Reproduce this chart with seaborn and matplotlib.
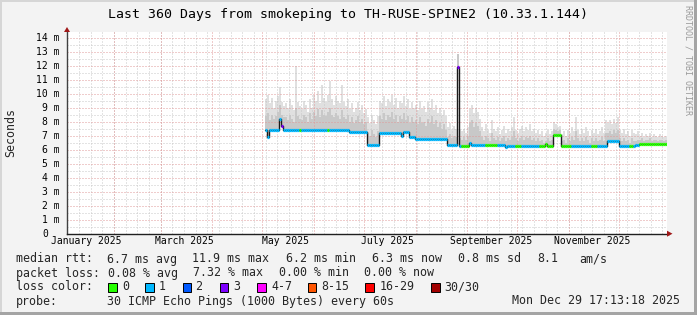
import numpy as np
import pandas as pd
import matplotlib
matplotlib.use("Agg")
import matplotlib.pyplot as plt
import matplotlib.dates as mdates
import matplotlib.transforms as mtransforms
from matplotlib.patches import Polygon, Rectangle
import seaborn as sns

# ---------------- data ----------------
title = "Last 360 Days from smokeping to TH-RUSE-SPINE2 (10.33.1.144)"
graph_start = "2025-01-03 17:13:18"
graph_end = "2025-12-29 17:13:18"
first_sample = "2025-05-02 17:00"
sample_step = "28h48min"          # consolidation step of the 360-day graph (1.2 days)

# median RTT (ms) as run-lengths of consolidated samples
median_run_len = [1, 1, 5, 1, 1, 33, 9, 6, 11, 1, 3, 3, 16, 5, 1, 5, 1, 17, 1, 19, 1, 3, 4, 23, 6, 8, 2, 14]
median_run_val = [7.38, 6.9, 7.38, 8.2, 7.7, 7.38, 7.26, 6.33, 7.17, 6.95, 7.24, 6.88, 6.8, 6.33, 11.9,
                  6.3, 6.45, 6.32, 6.2, 6.3, 6.38, 6.3, 7.05, 6.27, 6.65, 6.28, 6.35, 6.38]

# packet loss (pings lost of 30) as run-lengths
loss_run_len = [8, 1, 8, 1, 13, 1, 64, 1, 1, 4, 8, 6, 9, 3, 9, 16, 10, 3, 16, 2, 3, 14]
loss_run_lvl = [1, 3, 1, 0, 1, 0, 1, 3, 1, 0, 1, 0, 1, 0, 1, 0, 1, 0, 1, 0, 1, 0]

# smoke: highest ping (ms) per sample
smoke_hi = [9.6, 9.9, 9.3, 9.7, 9.0, 9.5, 9.8, 10.5, 9.4, 9.1,
            9.3, 9.0, 9.6, 9.2, 8.8, 12.0, 9.4, 9.1, 8.9, 9.5,
            9.2, 8.7, 9.6, 9.0, 9.9, 9.5, 10.2, 9.3, 10.6, 9.7,
            9.4, 9.9, 10.9, 9.6, 9.2, 9.8, 9.5, 9.3, 10.6, 9.4,
            9.1, 9.6, 8.9, 9.3, 8.7, 9.0, 9.4, 8.8, 9.2, 8.6, 8.9,
            8.3, 7.9, 8.5, 8.1, 7.8, 8.4,
            9.5, 9.3, 9.8, 9.1, 9.6, 9.4, 9.9, 9.2, 9.7, 9.0, 9.5,
            9.3, 9.8, 9.1, 9.6, 8.9, 9.4, 9.0,
            9.2, 8.8, 9.5, 8.9, 9.1, 8.7, 9.4, 9.0, 9.6, 8.8, 9.2, 8.6, 9.0, 8.5, 8.8, 8.4,
            7.6, 7.9, 7.4, 7.7, 7.5,
            12.85,
            7.4, 7.3, 7.5, 7.2, 7.6,
            8.9, 9.2, 8.6, 9.0, 8.7, 8.2,
            7.6, 7.3, 7.8, 7.4, 7.2, 8.1, 7.5, 7.3, 7.6, 7.1, 7.4, 7.7, 7.2, 7.5, 7.3, 7.6, 8.3, 7.4,
            7.2, 7.5, 7.7, 7.3, 7.6, 7.4, 7.8, 7.3, 7.5, 7.2, 7.4, 7.1, 7.3, 7.0, 7.2, 7.4, 7.1, 7.3,
            8.0, 7.8, 7.6, 7.7,
            7.1, 7.3, 7.0, 7.4, 7.2, 7.6, 7.3, 8.3, 7.4, 7.1, 7.5, 7.2, 7.6, 7.3, 7.0, 7.4, 7.2, 7.5,
            7.1, 7.3, 7.6, 7.2, 8.1,
            7.9, 8.1, 7.8, 8.2, 7.9, 8.3,
            7.4, 7.2, 7.5, 7.1, 7.3, 7.0, 7.4, 7.2, 7.1, 7.3,
            7.0, 7.2, 6.9, 7.1, 7.0, 7.2, 6.9, 7.1, 7.0, 6.9, 7.1, 7.0, 6.9, 7.0]

# smoke: upper edge of the denser inner band per sample
smoke_mid = [8.4, 8.6, 8.1, 8.5, 8.2, 8.4, 8.7, 9.2, 8.5, 8.3,
             8.3, 8.1, 8.5, 8.2, 8.0, 9.0, 8.4, 8.2, 8.1, 8.5,
             8.3, 8.0, 8.6, 8.2, 8.7, 8.4, 8.9, 8.3, 8.8, 8.5,
             8.4, 8.7, 9.0, 8.5, 8.3, 8.6, 8.4, 8.2, 8.8, 8.3,
             8.2, 8.5, 8.0, 8.3, 7.9, 8.1, 8.4, 8.0, 8.2, 7.8, 8.0,
             7.2, 7.0, 7.4, 7.1, 6.9, 7.3,
             8.4, 8.2, 8.6, 8.1, 8.5, 8.3, 8.7, 8.2, 8.5, 8.0, 8.4,
             8.2, 8.6, 8.1, 8.4, 7.9, 8.3, 8.0,
             8.1, 7.8, 8.3, 7.9, 8.0, 7.7, 8.2, 7.9, 8.4, 7.8, 8.1, 7.6, 7.9, 7.5, 7.8, 7.4,
             6.9, 7.1, 6.8, 7.0, 6.9,
             12.8,
             6.8, 6.7, 6.9, 6.7, 7.0,
             7.9, 8.1, 7.6, 7.9, 7.7, 7.3,
             6.9, 6.7, 7.0, 6.8, 6.6, 7.2, 6.8, 6.7, 6.9, 6.6, 6.8, 7.0, 6.6, 6.8, 6.7, 6.9, 7.3, 6.8,
             6.6, 6.8, 7.0, 6.7, 6.9, 6.8, 7.0, 6.7, 6.8, 6.6, 6.8, 6.6, 6.7, 6.5, 6.6, 6.8, 6.6, 6.7,
             7.5, 7.4, 7.3, 7.4,
             6.6, 6.7, 6.5, 6.8, 6.6, 6.9, 6.7, 7.3, 6.8, 6.6, 6.8, 6.6, 6.9, 6.7, 6.5, 6.8, 6.6, 6.8,
             6.6, 6.7, 6.9, 6.6, 7.2,
             7.2, 7.3, 7.1, 7.4, 7.2, 7.4,
             6.8, 6.6, 6.8, 6.6, 6.7, 6.5, 6.8, 6.6, 6.6, 6.7,
             6.7, 6.8, 6.6, 6.7, 6.7, 6.8, 6.6, 6.7, 6.7, 6.6, 6.7, 6.7, 6.6, 6.7]

y_ticks = list(range(0, 15))
y_tick_labels = ["0"] + [f"{v} m" for v in range(1, 15)]
month_labels = ["January 2025", "March 2025", "May 2025", "July 2025", "September 2025", "November 2025"]
month_label_dates = ["2025-01-15", "2025-03-15", "2025-05-15", "2025-07-15", "2025-09-15", "2025-11-15"]

loss_labels = ["0", "1", "2", "3", "4-7", "8-15", "16-29", "30/30"]
loss_colors = ["#26ff00", "#00b8ff", "#0059ff", "#7e00ff", "#ff00ff", "#ff5500", "#ff0000", "#a10000"]

stat_rtt = ["6.7 ms avg", "11.9 ms max", "6.2 ms min", "6.3 ms now", "0.8 ms sd", "8.1", "am/s"]
stat_loss = ["0.08 % avg", "7.32 % max", "0.00 % min", "0.00 % now"]
probe_text = "30 ICMP Echo Pings (1000 Bytes) every 60s"
stamp_text = "Mon Dec 29 17:13:18 2025"

# ---------------- build ----------------
median = np.repeat(median_run_val, median_run_len)
loss = np.repeat(loss_run_lvl, loss_run_len)
hi = np.array(smoke_hi)
mid = np.array(smoke_mid)
n = len(median)
assert len(loss) == n and len(hi) == n and len(mid) == n

t_edges = pd.date_range(first_sample, periods=n + 1, freq=sample_step)
x_edges = mdates.date2num(t_edges.to_pydatetime())
x0, x1 = mdates.date2num(pd.Timestamp(graph_start)), mdates.date2num(pd.Timestamp(graph_end))

sns.set_style("white")
plt.rcParams["font.family"] = ["DejaVu Sans Mono"]

W, H = 697, 315
fig = plt.figure(figsize=(W / 100, H / 100), dpi=100, facecolor="#f3f3f3")


def fx(px):
    return px / W


def fy(py):
    return 1 - py / H


PL, PR, PT, PB = 67, 667, 32, 233.7
ax = fig.add_axes([fx(PL), fy(PB), (PR - PL) / W, (PB - PT) / H])
ax.set_facecolor("white")
ax.set_xlim(x0, x1)
ax.set_ylim(0, (PB - PT) / 14.0)

# smoke
lo_ext = np.append(median, median[-1]) - 0.05
ax.fill_between(x_edges, lo_ext, np.append(hi, hi[-1]), step="post", color="#e0e0e0", lw=0, zorder=1)
ax.fill_between(x_edges, lo_ext, np.append(mid, mid[-1]), step="post", color="#c8c8c8", lw=0, zorder=1.1)

# grid (rrdtool style dotted lines)
minor_c, major_c = "#c8c8c8", "#e09a9a"
dots = (0, (1, 2))
gkw = dict(lw=0.72, ls=dots)
for v in np.arange(0.5, 14.5, 1.0):
    ax.axhline(v, color=minor_c, zorder=2, **gkw)
weeks = pd.date_range("2025-01-04", graph_end, freq="7D")
for d in weeks:
    ax.axvline(mdates.date2num(d), color=minor_c, zorder=2, **gkw)
for v in range(1, 15):
    ax.axhline(v, color=major_c, zorder=2.1, **gkw)
months = pd.date_range("2025-02-01", "2025-12-01", freq="MS")
for d in months:
    ax.axvline(mdates.date2num(d), color=major_c, zorder=2.1, **gkw)

# median line (dark steps) + loss-coloured median
df = pd.DataFrame({"t": x_edges, "rtt": np.append(median, median[-1])})
sns.lineplot(data=df, x="t", y="rtt", drawstyle="steps-post", color="#1a1a1a", lw=1.0, ax=ax, zorder=3)
ax.hlines(median, x_edges[:-1], x_edges[1:], colors=[loss_colors[l] for l in loss], lw=2.3, zorder=4,
          capstyle="butt")

# axes styling
for s in ["top", "right"]:
    ax.spines[s].set_visible(False)
ax.spines["left"].set_color("#404040")
ax.spines["bottom"].set_color("#202020")
ax.spines["left"].set_linewidth(1.0)
ax.spines["bottom"].set_linewidth(1.0)
ax.spines["left"].set_zorder(5)
ax.spines["bottom"].set_zorder(5)
ax.set_xlabel("")
ax.set_ylabel("")
ax.set_yticks(y_ticks)
ax.set_yticklabels([])
ax.set_yticks(np.arange(0.5, 14.5, 1.0), minor=True)
ax.tick_params(axis="y", which="major", length=2.5, width=0.8, color="#d08080", direction="out")
ax.tick_params(axis="y", which="minor", length=1.5, width=0.6, color="#b0b0b0", direction="out")
ax.set_xticks(mdates.date2num(months.to_pydatetime()))
ax.set_xticklabels([])
ax.set_xticks(mdates.date2num(weeks.to_pydatetime()), minor=True)
ax.tick_params(axis="x", which="major", length=2.5, width=0.8, color="#d08080", direction="out")
ax.tick_params(axis="x", which="minor", length=1.5, width=0.6, color="#b0b0b0", direction="out")

# y tick labels (rrdtool style, monospace, right aligned)
ytrans = mtransforms.blended_transform_factory(fig.transFigure, ax.transData)
cw = 7 / 72 * 100 * 0.602
for v, lab in zip(y_ticks, y_tick_labels):
    xr = 59.8 if lab.endswith("m") else 59.8 - 2 * cw
    fig.text(fx(xr), v, lab, transform=ytrans, ha="right", va="center", fontsize=7, color="#000000")

# x labels
xtrans = mtransforms.blended_transform_factory(ax.transData, fig.transFigure)
for lab, d in zip(month_labels, month_label_dates):
    fig.text(mdates.date2num(pd.Timestamp(d)), fy(241.5), lab, transform=xtrans, ha="center", va="center",
             fontsize=7, color="#000000")

# axis arrows
fig.add_artist(Polygon([[fx(PL - 3), fy(PT)], [fx(PL + 3), fy(PT)], [fx(PL), fy(PT - 5)]], closed=True,
                       transform=fig.transFigure, color="#a01818", lw=0))
fig.add_artist(Polygon([[fx(PR), fy(PB - 3)], [fx(PR), fy(PB + 3)], [fx(PR + 5.5), fy(PB)]], closed=True,
                       transform=fig.transFigure, color="#a01818", lw=0))
ax.plot([1.0, 1.0 + 1.5 / 600], [0, 0], transform=ax.transAxes, color="#202020", lw=1.0, clip_on=False)

# title, axis label, watermark
fig.text(0.5, fy(14.5), title, ha="center", va="center", fontsize=9.5, color="#000000")
fig.text(fx(10.5), fy(132.5), "Seconds", rotation=90, ha="center", va="center", fontsize=8.4)
fig.text(fx(688), fy(60), "RRDTOOL / TOBI OETIKER", rotation=270, ha="center", va="center", fontsize=6,
         color="#9a9a9a")

# legend rows
LF = 8.4
rows_y = [259, 273, 287, 301]
fig.text(fx(15.6), fy(rows_y[0]), "median rtt:", ha="left", va="center", fontsize=LF)
for xp, s in zip([106.7, 192.4, 285.8, 371.6, 457.8, 536.9, 579.1], stat_rtt):
    fig.text(fx(xp), fy(rows_y[0]), s, ha="left", va="center", fontsize=LF)
fig.text(fx(15.6), fy(rows_y[1]), "packet loss:", ha="left", va="center", fontsize=LF)
for xp, s in zip([107.6, 193.3, 279.1, 364.4], stat_loss):
    fig.text(fx(xp), fy(rows_y[1]), s, ha="left", va="center", fontsize=LF)
fig.text(fx(15.6), fy(rows_y[2]), "loss color:", ha="left", va="center", fontsize=LF)
box_x = [108, 145.3, 182.7, 219.6, 257, 307.6, 365, 431]
lab_x = [122, 159, 195.6, 233.3, 271, 321.3, 380, 444.4]
for bx, lx, c, lab in zip(box_x, lab_x, loss_colors, loss_labels):
    fig.add_artist(Rectangle((fx(bx), fy(rows_y[2] + 4.5)), 8.5 / W, 9 / H, transform=fig.transFigure,
                             facecolor=c, edgecolor="#000000", lw=0.7))
    fig.text(fx(lx), fy(rows_y[2]), lab, ha="left", va="center", fontsize=LF)
fig.text(fx(15.6), fy(rows_y[3]), "probe:", ha="left", va="center", fontsize=LF)
fig.text(fx(106.7), fy(rows_y[3]), probe_text, ha="left", va="center", fontsize=LF)
fig.text(fx(680.5), fy(rows_y[3]), stamp_text, ha="right", va="center", fontsize=LF)

# 3D canvas border
fig.add_artist(Rectangle((0, fy(2)), 1, 2 / H, transform=fig.transFigure, color="#d6d6d6", lw=0))
fig.add_artist(Rectangle((0, 0), 2 / W, 1, transform=fig.transFigure, color="#d6d6d6", lw=0))
fig.add_artist(Rectangle((0, 0), 1, 3 / H, transform=fig.transFigure, color="#a4a4a4", lw=0))
fig.add_artist(Rectangle((fx(694), 0), 3 / W, 1, transform=fig.transFigure, color="#a4a4a4", lw=0))

fig.savefig("out.png", dpi=100, facecolor=fig.get_facecolor())
